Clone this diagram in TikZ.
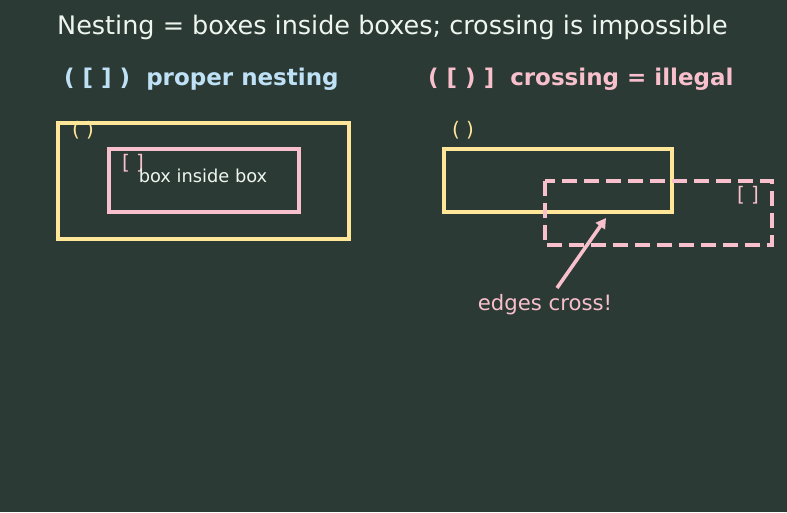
\documentclass[tikz,border=0pt]{standalone}
\usepackage{fontspec}
\setmainfont{DejaVu Sans}
\usetikzlibrary{arrows.meta}
\definecolor{bg}{HTML}{2B3A35}
\definecolor{yel}{HTML}{FFE699}
\definecolor{pnk}{HTML}{F8BFCC}
\definecolor{blu}{HTML}{BFE1F6}
\definecolor{ttl}{HTML}{EEF5EE}
\begin{document}
\begin{tikzpicture}[x=1pt,y=-1pt,
  ybox/.style={draw=yel,line width=3.6pt},
  pbox/.style={draw=pnk,line width=3.6pt},
  lbl/.style={inner sep=0pt,font=\fontsize{20}{23}\selectfont}]
\fill[bg] (0,0) rectangle (787,512);
\useasboundingbox (0,0) rectangle (787,512);
\node[anchor=west,inner sep=0pt,text=ttl,font=\fontsize{25.5}{29}\selectfont] (title) at (57,27) {Nesting = boxes inside boxes; crossing is impossible};
\node[anchor=west,inner sep=0pt,text=blu,font=\bfseries\fontsize{23}{26}\selectfont] (sub1) at (64,79) {( [ ] )\ \ proper nesting};
\node[anchor=west,inner sep=0pt,text=pnk,font=\bfseries\fontsize{23}{26}\selectfont] (sub2) at (428,79) {( [ ) ]\ \ crossing = illegal};
% left
\draw[ybox] (58,123) rectangle (349,239);
\draw[pbox] (109,149) rectangle (299,212);
\node[lbl,text=yel] (l1) at (83,130) {( )};
\node[lbl,text=pnk] (l2) at (133,163) {[ ]};
\node[inner sep=0pt,text=ttl,font=\fontsize{17.8}{20}\selectfont] (bib) at (203,176) {box inside box};
% right
\draw[ybox] (444,149) rectangle (672,212);
\draw[pbox,dash pattern=on 15pt off 7pt] (545,181) rectangle (772,245);
\node[lbl,text=yel] (r1) at (463,130) {( )};
\node[lbl,text=pnk] (r2) at (748,195) {[ ]};
\node[inner sep=0pt,text=pnk,font=\fontsize{21.2}{24}\selectfont] (ec) at (545,305) {edges cross!};
\coordinate (as) at (557,288);
\coordinate (ae) at (606,218);
\draw[pnk,line width=3.6pt,-{Triangle[length=10pt,width=11pt]}] (as) -- (ae);
\end{tikzpicture}
\end{document}
